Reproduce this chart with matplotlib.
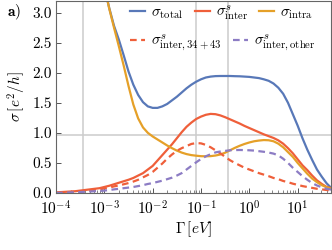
import numpy as np
import matplotlib
matplotlib.use("Agg")
import matplotlib.pyplot as plt
from matplotlib.lines import Line2D
from matplotlib.ticker import FormatStrFormatter, LogLocator, NullFormatter

plt.rcParams['font.family'] = 'serif'
plt.rcParams['font.serif'] = ['cmr10']
plt.rcParams['mathtext.fontset'] = 'cm'
plt.rcParams['axes.formatter.use_mathtext'] = True

# ---- data: log10(Gamma [eV]) grid and sigma [e^2/h] read at each grid point ----
log_gamma = [-4.0, -3.9, -3.8, -3.7, -3.6, -3.5, -3.4, -3.3, -3.2, -3.1,
             -3.0, -2.9, -2.8, -2.7, -2.6, -2.5, -2.4, -2.3, -2.2, -2.1,
             -2.0, -1.9, -1.8, -1.7, -1.6, -1.5, -1.4, -1.3, -1.2, -1.1,
             -1.0, -0.9, -0.8, -0.7, -0.6, -0.5, -0.4, -0.3, -0.2, -0.1,
             0.0, 0.1, 0.2, 0.3, 0.4, 0.5, 0.6, 0.7, 0.8, 0.9,
             1.0, 1.1, 1.2, 1.3, 1.4, 1.5, 1.6, 1.7]

# total and intra start at log_gamma = -3.0 (index 10); above the axis before that
s_total = [3.42, 3.08, 2.78, 2.55, 2.29, 2.02, 1.80, 1.63, 1.51, 1.44,
           1.415, 1.415, 1.44, 1.48, 1.54, 1.60, 1.67, 1.74, 1.80, 1.85,
           1.89, 1.92, 1.935, 1.943, 1.945, 1.945, 1.945, 1.942, 1.94, 1.935,
           1.93, 1.92, 1.91, 1.89, 1.865, 1.82, 1.75, 1.65, 1.50, 1.31,
           1.12, 0.91, 0.72, 0.55, 0.39, 0.27, 0.16, 0.08]

s_intra = [3.45, 3.07, 2.75, 2.44, 2.12, 1.78, 1.47, 1.24, 1.09, 1.00,
           0.94, 0.89, 0.84, 0.79, 0.745, 0.705, 0.672, 0.647, 0.63, 0.62,
           0.612, 0.61, 0.613, 0.623, 0.64, 0.67, 0.71, 0.75, 0.785, 0.815,
           0.84, 0.86, 0.872, 0.88, 0.877, 0.86, 0.82, 0.76, 0.68, 0.60,
           0.50, 0.41, 0.32, 0.24, 0.18, 0.13, 0.095, 0.07]

s_inter = [0.01, 0.015, 0.02, 0.025, 0.03, 0.04, 0.05, 0.06, 0.07, 0.08,
           0.10, 0.12, 0.145, 0.17, 0.195, 0.22, 0.25, 0.29, 0.33, 0.39,
           0.45, 0.54, 0.63, 0.72, 0.81, 0.91, 1.01, 1.10, 1.17, 1.23,
           1.27, 1.30, 1.315, 1.31, 1.29, 1.26, 1.225, 1.19, 1.155, 1.115,
           1.08, 1.045, 1.01, 0.975, 0.945, 0.915, 0.875, 0.82, 0.745, 0.66,
           0.56, 0.46, 0.38, 0.29, 0.21, 0.15, 0.10, 0.08]

s_inter_3443 = [0.0, 0.005, 0.01, 0.015, 0.02, 0.025, 0.03, 0.04, 0.05, 0.06,
                0.075, 0.09, 0.11, 0.125, 0.145, 0.165, 0.19, 0.22, 0.26, 0.30,
                0.35, 0.42, 0.49, 0.57, 0.64, 0.70, 0.745, 0.78, 0.815, 0.83,
                0.825, 0.80, 0.76, 0.71, 0.66, 0.60, 0.545, 0.50, 0.46, 0.42,
                0.39, 0.36, 0.33, 0.305, 0.28, 0.25, 0.23, 0.20, 0.18, 0.155,
                0.135, 0.115, 0.10, 0.085, 0.07, 0.06, 0.05, 0.04]

s_inter_other = [0.0, 0.003, 0.006, 0.009, 0.012, 0.015, 0.02, 0.025, 0.03, 0.035,
                 0.04, 0.05, 0.06, 0.07, 0.08, 0.09, 0.10, 0.115, 0.13, 0.15,
                 0.165, 0.185, 0.205, 0.23, 0.255, 0.29, 0.33, 0.39, 0.45, 0.51,
                 0.565, 0.61, 0.645, 0.675, 0.69, 0.70, 0.71, 0.713, 0.715, 0.713,
                 0.71, 0.705, 0.695, 0.685, 0.672, 0.655, 0.625, 0.57, 0.50, 0.42,
                 0.35, 0.28, 0.22, 0.165, 0.125, 0.095, 0.07, 0.055]

vlines = [3.7e-4, 0.077, 0.36]
hline = 0.97

c_blue = '#5878B8'
c_red = '#EF5F3A'
c_orange = '#E5A028'
c_purple = '#8C7CC4'

gamma = 10 ** np.array(log_gamma)
gamma_hi = gamma[10:]

fig = plt.figure(figsize=(3.32, 2.5), dpi=100)
ax = fig.add_axes([56/332, 1-193/250, 275/332, 192.5/250])

for v in vlines:
    ax.axvline(v, color='#cccccc', lw=1.1, zorder=0)
ax.axhline(hline, color='#cccccc', lw=1.1, zorder=0)

lw = 1.6
ax.plot(gamma_hi, s_total, color=c_blue, lw=lw)
ax.plot(gamma, s_inter, color=c_red, lw=lw)
ax.plot(gamma_hi, s_intra, color=c_orange, lw=lw)
ax.plot(gamma, s_inter_3443, color=c_red, lw=lw, dashes=(3, 2))
ax.plot(gamma, s_inter_other, color=c_purple, lw=lw, dashes=(3, 2))

ax.set_xscale('log')
ax.set_xlim(1e-4, 10 ** 1.69)
ax.set_ylim(0, 3.2)
ax.set_yticks([0, 0.5, 1.0, 1.5, 2.0, 2.5, 3.0])
ax.yaxis.set_major_formatter(FormatStrFormatter('%.1f'))
ax.xaxis.set_major_locator(LogLocator(base=10, numticks=20))
ax.xaxis.set_minor_locator(LogLocator(base=10, subs=np.arange(2, 10), numticks=20))
ax.xaxis.set_minor_formatter(NullFormatter())
ax.tick_params(direction='in', which='both', labelsize=11, color='#555555', pad=3)
ax.tick_params(axis='x', which='major', pad=4.5)
ax.tick_params(which='major', length=3.5, width=0.7)
ax.tick_params(which='minor', length=2, width=0.5)
for s in ax.spines.values():
    s.set_color('#666666')
    s.set_linewidth(0.8)

ax.set_xlabel(r'$\Gamma\,[eV]$', fontsize=11, labelpad=1)
ax.set_ylabel(r'$\sigma\,[e^2/h]$', fontsize=11, labelpad=3)

fig.text(7/332, 1-12/250, r'$\mathbf{a)}$', fontsize=11, va='center', ha='left')

h_total = Line2D([], [], color=c_blue, lw=lw)
h_inter = Line2D([], [], color=c_red, lw=lw)
h_intra = Line2D([], [], color=c_orange, lw=lw)
h_3443 = Line2D([], [], color=c_red, lw=lw, dashes=(3, 2))
h_other = Line2D([], [], color=c_purple, lw=lw, dashes=(3, 2))

common = dict(frameon=False, fontsize=11, handlelength=1.0, handletextpad=0.4,
              columnspacing=0.7, borderpad=0, borderaxespad=0, loc='center left')
leg1 = fig.legend([h_total, h_inter, h_intra],
                  [r'$\sigma_{\rm total}$', r'$\sigma^s_{\rm inter}$', r'$\sigma_{\rm intra}$'],
                  ncol=3, bbox_to_anchor=(130/332, 1-13/250), **common)
leg2 = fig.legend([h_3443, h_other],
                  [r'$\sigma^s_{\rm inter,34+43}$', r'$\sigma^s_{\rm inter,other}$'],
                  ncol=2, bbox_to_anchor=(130/332, 1-43/250), **common)

fig.savefig('out.png', dpi=100)
